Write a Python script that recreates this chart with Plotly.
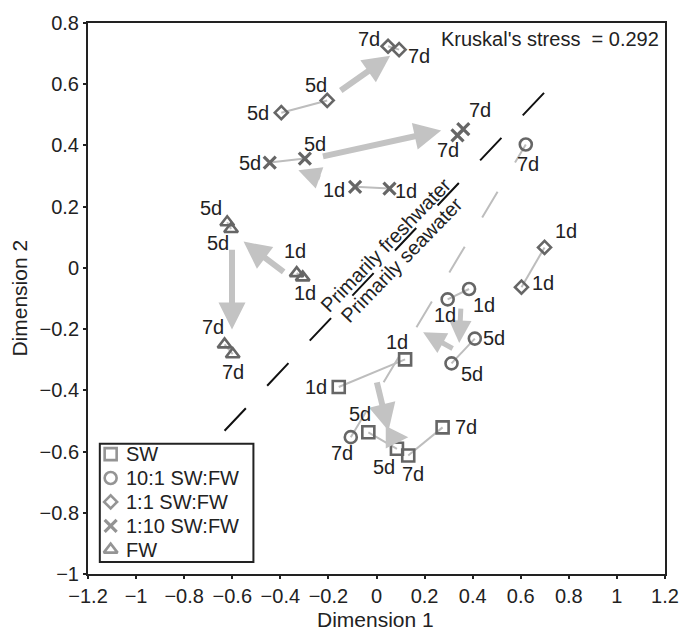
import plotly.graph_objects as go

# ---------------- data ----------------
days = ["1d", "1d", "5d", "5d", "7d", "7d"]

sw_x = [-0.157, 0.119, -0.034, 0.085, 0.132, 0.275]
sw_y = [-0.389, -0.299, -0.537, -0.591, -0.613, -0.521]

c101_x = [0.296, 0.385, 0.409, 0.312, -0.107, 0.621]
c101_y = [-0.103, -0.069, -0.231, -0.312, -0.553, 0.403]

d11_x = [0.699, 0.603, -0.205, -0.396, 0.048, 0.094]
d11_y = [0.067, -0.063, 0.547, 0.507, 0.724, 0.713]

x110_x = [-0.089, 0.054, -0.298, -0.444, 0.337, 0.361]
x110_y = [0.265, 0.259, 0.357, 0.344, 0.433, 0.453]

fw_x = [-0.332, -0.307, -0.621, -0.605, -0.632, -0.598]
fw_y = [-0.017, -0.031, 0.149, 0.127, -0.250, -0.282]

series_names = ["SW", "10:1 SW:FW", "1:1 SW:FW", "1:10 SW:FW", "FW"]

# trajectory arrows (tail -> head)
arrow_tail_x = [-0.155, -0.229, -0.229, -0.380, -0.601, 0.351, 0.323, 0.000, 0.071]
arrow_tail_y = [0.576, 0.363, 0.292, -0.017, 0.064, -0.128, -0.266, -0.369, -0.553]
arrow_head_x = [0.057, 0.269, -0.325, -0.553, -0.601, 0.344, 0.194, 0.050, 0.132]
arrow_head_y = [0.693, 0.449, 0.319, 0.086, -0.201, -0.245, -0.210, -0.532, -0.553]

# freshwater / seawater divider
divider_x = [-0.632, 0.726]
divider_y = [-0.532, 0.596]
divider_text_x = [0.038, 0.103]
divider_text_y = [0.076, 0.027]
divider_text = ["Primarily freshwater", "Primarily seawater"]

stress_text = "Kruskal's stress\u00a0 = 0.292"
x_title = "Dimension 1"
y_title = "Dimension 2"

x_ticks = [-1.2, -1, -0.8, -0.6, -0.4, -0.2, 0, 0.2, 0.4, 0.6, 0.8, 1, 1.2]
y_ticks = [-1, -0.8, -0.6, -0.4, -0.2, 0, 0.2, 0.4, 0.6, 0.8]

# ---------------- styles / layout constants ----------------
FONT = "Liberation Sans, Arial, Helvetica, sans-serif"
MK = "#666666"
LINE_GRAY = "#bdbdbd"
ARROW_GRAY = "#c3c3c3"
TXT = "#222222"

W, H = 691, 633
ML, MR, MT, MB = 88, 17, 20, 59
PW, PH = W - ML - MR, H - MT - MB


def px_x(p):
    return (p - ML) / PW


def px_y(p):
    return (H - MB - p) / PH


label_offsets = {
    "SW": [(-23, 0), (-8, -17), (-8, -18), (-13, 18), (5, 18), (23, 0)],
    "10:1 SW:FW": [(-3, 16), (15, 16), (19, -1), (20, 11), (-9, 16), (2, 19)],
    "1:1 SW:FW": [(21, -16), (22, -4), (-11, -15), (-23, 0), (-19, -7), (20, 6)],
    "1:10 SW:FW": [(-21, 3), (17, 2), (10, -15), (-20, 0), (-10, 15), (17, -19)],
    "FW": [(-2, -22), (2, 16), (-16, -14), (-13, 14), (-12, -17), (0, 18)],
}
symbols = {
    "SW": ("square-open", 12, 2.6),
    "10:1 SW:FW": ("circle-open", 12, 2.6),
    "1:1 SW:FW": ("diamond-open", 10, 2.6),
    "1:10 SW:FW": ("x-thin", 12, 3.2),
    "FW": ("triangle-up-open", 12, 2.6),
}
arrow_widths = [6, 6, 5, 6, 6, 5, 5, 6, 5]

# legend box geometry (pixels)
LEG_L, LEG_R, LEG_T, LEG_B = 100, 256, 443, 562
ROW0, ROW_STEP = 453.5, 24
SYM_X, TXT_X = 111, 125

series = {
    "SW": (sw_x, sw_y),
    "10:1 SW:FW": (c101_x, c101_y),
    "1:1 SW:FW": (d11_x, d11_y),
    "1:10 SW:FW": (x110_x, x110_y),
    "FW": (fw_x, fw_y),
}

fig = go.Figure()

# divider dashed line
fig.add_trace(go.Scatter(x=divider_x, y=divider_y, mode="lines",
                         line=dict(color="#111111", width=2, dash="31px,31px"),
                         showlegend=False, hoverinfo="skip"))

# replicate connection lines
for name in series_names:
    xs, ys = series[name]
    for i in range(0, 6, 2):
        dashed = (name == "10:1 SW:FW" and i == 4)
        fig.add_trace(go.Scatter(
            x=[xs[i], xs[i + 1]], y=[ys[i], ys[i + 1]], mode="lines",
            line=dict(color=LINE_GRAY, width=2, dash="30px,34px" if dashed else "solid"),
            showlegend=False, hoverinfo="skip"))

# markers
for name in series_names:
    xs, ys = series[name]
    sym, size, lw = symbols[name]
    fig.add_trace(go.Scatter(
        x=xs, y=ys, mode="markers", name=name, showlegend=False,
        marker=dict(symbol=sym, size=size, color=MK, line=dict(color=MK, width=lw)),
    ))

# legend symbols on an invisible overlay axis spanning the plot area (0..1)
leg_sym_x = [px_x(SYM_X)] * len(series_names)
leg_sym_y = [px_y(ROW0 + k * ROW_STEP) for k in range(len(series_names))]
fig.add_trace(go.Scatter(
    x=leg_sym_x, y=leg_sym_y, xaxis="x2", yaxis="y2", mode="markers",
    showlegend=False, hoverinfo="skip",
    marker=dict(symbol=[symbols[n][0] for n in series_names],
                size=[symbols[n][1] for n in series_names],
                color=MK, line=dict(color=MK, width=[symbols[n][2] for n in series_names])),
))

annotations = []
# arrows
for i in range(len(arrow_tail_x)):
    annotations.append(dict(
        x=arrow_head_x[i], y=arrow_head_y[i], ax=arrow_tail_x[i], ay=arrow_tail_y[i],
        xref="x", yref="y", axref="x", ayref="y", text="", showarrow=True,
        arrowhead=2, arrowsize=0.9, arrowwidth=arrow_widths[i], arrowcolor=ARROW_GRAY,
        standoff=0, startstandoff=0))

# point labels
for name in series_names:
    xs, ys = series[name]
    for i in range(6):
        dx, dy = label_offsets[name][i]
        annotations.append(dict(
            x=xs[i], y=ys[i], xref="x", yref="y", text=days[i], showarrow=False,
            xshift=dx, yshift=-dy, font=dict(family=FONT, size=20, color=TXT)))

# divider labels
for i in range(2):
    annotations.append(dict(
        x=divider_text_x[i], y=divider_text_y[i], xref="x", yref="y",
        text=divider_text[i], showarrow=False, textangle=-46,
        font=dict(family=FONT, size=20, color=TXT)))

# stress text
annotations.append(dict(
    x=px_x(670), y=px_y(36.5), xref="paper", yref="paper", xanchor="right", yanchor="middle",
    text=stress_text, showarrow=False, font=dict(family=FONT, size=20, color=TXT)))

# legend texts
for k, name in enumerate(series_names):
    annotations.append(dict(
        x=px_x(TXT_X), y=px_y(ROW0 + k * ROW_STEP), xref="paper", yref="paper",
        xanchor="left", yanchor="middle", text=name, showarrow=False,
        font=dict(family=FONT, size=20, color=TXT)))

# axis titles
annotations.append(dict(
    x=px_x(380), y=px_y(619.5), xref="paper", yref="paper", xanchor="center", yanchor="middle",
    text=x_title, showarrow=False, font=dict(family=FONT, size=21, color=TXT)))
annotations.append(dict(
    x=px_x(18), y=px_y(297), xref="paper", yref="paper", xanchor="center", yanchor="middle",
    text=y_title, showarrow=False, textangle=-90, font=dict(family=FONT, size=21, color=TXT)))

shapes = [dict(type="rect", xref="paper", yref="paper",
               x0=px_x(LEG_L), x1=px_x(LEG_R), y0=px_y(LEG_B), y1=px_y(LEG_T),
               line=dict(color=TXT, width=2), fillcolor="white", layer="below")]

axis_common = dict(
    showgrid=False, zeroline=False, showline=True, linecolor=TXT, linewidth=2,
    mirror=True, ticks="outside", ticklen=3, tickwidth=2, tickcolor=TXT,
    tickfont=dict(family=FONT, size=20, color=TXT),
)

fig.update_layout(
    width=W, height=H,
    margin=dict(l=ML, r=MR, t=MT, b=MB),
    paper_bgcolor="white", plot_bgcolor="white",
    font=dict(family=FONT, size=20, color=TXT),
    xaxis=dict(range=[-1.2, 1.2], tickvals=x_ticks, **axis_common),
    yaxis=dict(range=[-1, 0.8], tickvals=y_ticks, **axis_common),
    xaxis2=dict(overlaying="x", range=[0, 1], visible=False, anchor="y2"),
    yaxis2=dict(overlaying="y", range=[0, 1], visible=False, anchor="x2"),
    annotations=annotations,
    shapes=shapes,
    showlegend=False,
)

fig.write_html(
    "out.html",
    config={"displayModeBar": False},
    post_script="document.body.style.margin='0';document.body.style.overflow='hidden';",
)
